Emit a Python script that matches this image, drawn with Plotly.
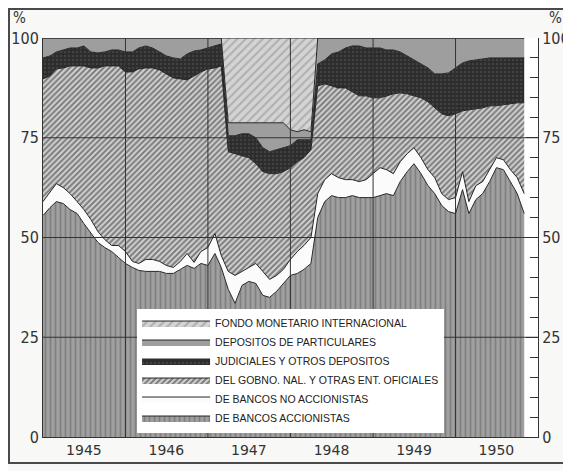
import pandas as pd
import plotly.graph_objects as go

# Monthly observations, Jan 1945 - Nov 1950 (percent of total deposits)
meses = pd.date_range("1945-01-01", periods=71, freq="MS")

bancos_accionistas = [
    55.5, 57.5, 59, 58.5, 57, 56, 53.5, 51, 48.75, 47.5, 46.5, 45,
    43.5, 42.5, 41.75, 41.5, 41.5, 41.5, 41, 41, 42, 43, 42.25, 43.5,
    43, 46, 42.5, 37, 33.5, 38, 39, 38.5, 35.5, 35, 36.5, 38.5,
    40.5, 41, 42, 43.5, 55, 59, 60.5, 60, 60, 60.5, 60, 60,
    60, 60.5, 61, 60.5, 64, 66.5, 68.5, 66, 63, 61, 58, 56.5,
    56, 62, 56, 59.5, 61, 64, 67.5, 67, 64, 61, 56]

bancos_no_accionistas = [
    3.5, 4, 4.5, 4, 4, 3, 3.5, 3.5, 2.75, 2, 1.5, 3,
    3, 1.5, 1.75, 3, 3, 2.5, 2, 1.5, 2, 3, 1.5, 3,
    4.5, 5, 3, 4.5, 7, 3.5, 3.5, 5, 6, 4.5, 4, 3.5,
    4, 5.5, 6, 6.5, 6, 5.5, 5.5, 5, 4.5, 4, 4, 4.5,
    6, 7, 6, 5.5, 5, 4.5, 4, 4, 4, 4, 3, 3,
    4, 4.5, 3, 3.5, 3, 3, 2.5, 2.5, 3, 4, 5]

gobierno_oficiales = [
    30.75, 29, 28.75, 30, 32, 34, 36, 38, 41, 43.5, 45, 45,
    45, 47.5, 48.75, 48, 48, 48, 48, 47.5, 45.75, 43.5, 46.75, 45,
    44.75, 41.5, 47.5, 30, 30.5, 29, 27.5, 25, 25, 26.5, 25.5, 24.5,
    23, 22.5, 22, 22, 27, 24, 22, 22.5, 23, 22, 21.5, 21,
    19, 17.5, 18.5, 20, 17.25, 15, 13, 15, 17, 17.5, 20, 21,
    21, 15.25, 23, 19.25, 18.5, 16, 13, 13.75, 16.5, 18.75, 22.75]

judiciales_otros = [
    5.25, 5, 4.25, 4.5, 4.5, 4.5, 5, 4, 3.75, 3.5, 4, 4,
    5, 5, 5.25, 5.5, 5, 4.5, 4.5, 5, 5, 6.5, 6.25, 5.5,
    5.25, 5.5, 5.5, 4, 4.5, 5.5, 6, 6.5, 6, 5.5, 6, 6,
    5.5, 5.5, 4.5, 2.5, 5.5, 6, 8, 9, 10, 11.5, 12.5, 12,
    12.5, 12.5, 11.5, 11, 10.25, 9.5, 9, 8.5, 8.5, 8.5, 10, 10.75,
    11.5, 12, 12.25, 12.25, 12.25, 12, 12, 11.75, 11.5, 11.25, 11.25]

particulares = [
    5, 4.5, 3.5, 3, 2.5, 2.5, 2, 3.5, 3.75, 3.5, 3, 3,
    3.5, 3.5, 2.5, 2, 2.5, 3.5, 4.5, 5, 5.25, 4, 3.25, 3,
    2.5, 2, 1.5, 3.25, 3.25, 2.75, 2.75, 3.75, 6.25, 7.25, 6.75, 6.25,
    4, 2, 2.5, 2, 6.5, 5.5, 4, 3.5, 2.5, 2, 2, 2.5,
    2.5, 2.5, 3, 3, 3.5, 4.5, 5.5, 6.5, 7.5, 9, 9, 8.75,
    7.5, 6.25, 5.75, 5.5, 5.25, 5, 5, 5, 5, 5, 5]

fondo_monetario = [
    0, 0, 0, 0, 0, 0, 0, 0, 0, 0, 0, 0,
    0, 0, 0, 0, 0, 0, 0, 0, 0, 0, 0, 0,
    0, 0, 0, 21.25, 21.25, 21.25, 21.25, 21.25, 21.25, 21.25, 21.25, 21.25,
    23, 23.5, 23, 23.5, 0, 0, 0, 0, 0, 0, 0, 0,
    0, 0, 0, 0, 0, 0, 0, 0, 0, 0, 0, 0,
    0, 0, 0, 0, 0, 0, 0, 0, 0, 0, 0]

nombres = [
    "DE BANCOS ACCIONISTAS",
    "DE BANCOS NO ACCIONISTAS",
    "DEL GOBNO. NAL. Y OTRAS ENT. OFICIALES",
    "JUDICIALES Y OTROS DEPOSITOS",
    "DEPOSITOS DE PARTICULARES",
    "FONDO MONETARIO INTERNACIONAL",
]
anios = ["1945", "1946", "1947", "1948", "1949", "1950"]
ytick_vals = [0, 25, 50, 75, 100]

series = [bancos_accionistas, bancos_no_accionistas, gobierno_oficiales,
          judiciales_otros, particulares, fondo_monetario]

estilos = [
    dict(shape="|", bgcolor="#a0a0a0", fgcolor="#606060", size=5, solidity=0.35),
    None,
    dict(shape="/", bgcolor="#d2d2d2", fgcolor="#262626", size=4, solidity=0.5),
    dict(shape=".", bgcolor="#2c2c2c", fgcolor="#555555", size=4, solidity=0.3),
    None,
    dict(shape="/", bgcolor="#d4d4d4", fgcolor="#8a8a8a", size=6, solidity=0.35),
]
rellenos = ["#a0a0a0", "#fbfbfb", "#b8b8b8", "#303030", "#9e9e9e", "#d4d4d4"]

fig = go.Figure()
for nombre, vals, pat, col in zip(nombres, series, estilos, rellenos):
    kw = dict(
        x=meses, y=vals, name=nombre, mode="lines", stackgroup="uno",
        line=dict(color="#262626", width=1), fillcolor=col,
        hoverinfo="x+y+name",
    )
    if pat is not None:
        kw["fillpattern"] = pat
    fig.add_trace(go.Scatter(**kw))

# helper so the right-hand axis is rendered
fig.add_trace(go.Scatter(x=[meses[0]], y=[0], yaxis="y2", mode="markers",
                         marker=dict(opacity=0), showlegend=False,
                         hoverinfo="skip"))

fuente = "Liberation Sans Narrow, DejaVu Sans Condensed, Arial Narrow, sans-serif"

year_starts = [f"{a}-01-01" for a in range(1946, 1951)]
shapes = []
for d in year_starts:
    shapes.append(dict(type="line", xref="x", yref="paper", x0=d, x1=d,
                       y0=0, y1=1, layer="above",
                       line=dict(color="#333333", width=1)))
for v in [25, 50, 75]:
    shapes.append(dict(type="line", xref="paper", yref="y", x0=0, x1=1,
                       y0=v, y1=v, layer="above",
                       line=dict(color="#333333", width=1)))
# outer frame of the picture
shapes.append(dict(type="rect", xref="paper", yref="paper",
                   x0=-0.0687, x1=1.0586, y0=-0.0652, y1=1.0727,
                   line=dict(color="#4a4a4a", width=2), layer="above"))

fig.update_layout(
    width=563, height=463,
    margin=dict(l=35, r=33, t=30, b=34, autoexpand=False),
    paper_bgcolor="#f8f8f6",
    plot_bgcolor="#ffffff",
    showlegend=True,
    legend=dict(
        x=0.19, y=0.322, xanchor="left", yanchor="top",
        bgcolor="#ffffff", borderwidth=0,
        traceorder="reversed",
        font=dict(family="Liberation Sans, Arial, sans-serif", size=10.5,
                  color="#222222"),
        itemwidth=68, tracegroupgap=0,
    ),
    xaxis=dict(
        type="date", automargin=False,
        range=["1945-01-01", "1951-01-01"],
        tickvals=[f"{a}-07-01" for a in anios],
        ticktext=anios,
        ticks="", showgrid=False, zeroline=False,
        showline=True, linecolor="#333333", linewidth=1,
        tickfont=dict(family="DejaVu Sans, sans-serif", size=14,
                      color="#333333"),
    ),
    yaxis=dict(
        range=[0, 100], tickvals=ytick_vals, automargin=False,
        showgrid=False, zeroline=False, ticks="",
        showline=True, linecolor="#333333", linewidth=1,
        tickfont=dict(family=fuente, size=16, color="#333333"),
    ),
    yaxis2=dict(
        range=[0, 100], tickvals=ytick_vals, overlaying="y", side="right",
        automargin=False,
        showgrid=False, zeroline=False,
        ticks="inside", ticklen=12, tickcolor="#333333",
        minor=dict(dtick=5, ticks="inside", ticklen=8, tickcolor="#333333"),
        showline=True, linecolor="#333333", linewidth=1,
        tickfont=dict(family=fuente, size=16, color="#333333"),
    ),
    shapes=shapes,
    annotations=[
        dict(text="%", xref="paper", yref="paper", x=-0.0465, y=1.05,
             xanchor="center", yanchor="middle",
             showarrow=False, font=dict(family=fuente, size=15, color="#333333")),
        dict(text="%", xref="paper", yref="paper", x=1.036, y=1.05,
             xanchor="center", yanchor="middle",
             showarrow=False, font=dict(family=fuente, size=15, color="#333333")),
    ],
)

fig.write_html("out.html")
